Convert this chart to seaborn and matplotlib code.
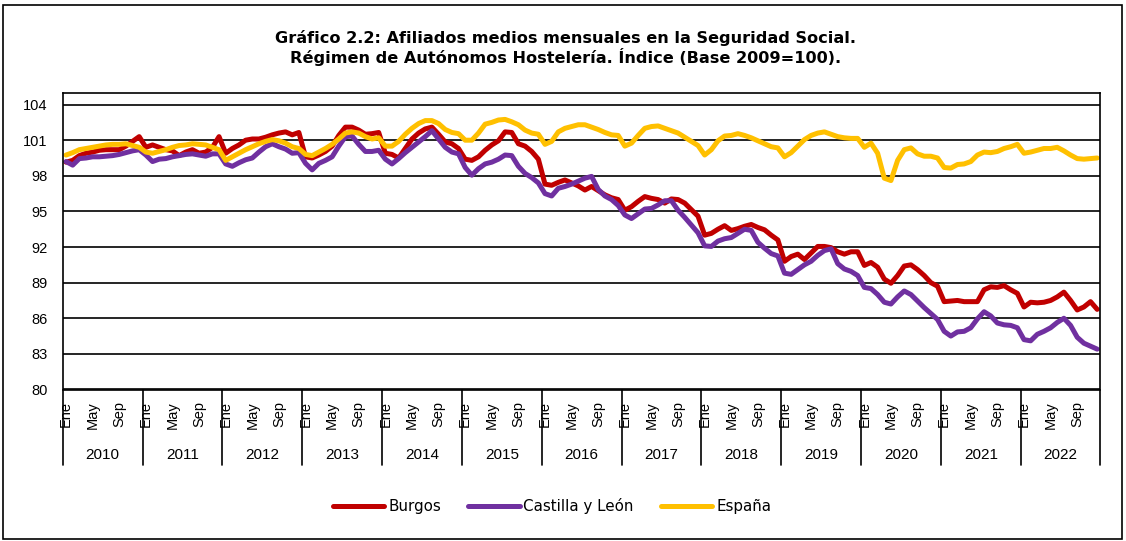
import matplotlib
matplotlib.use("Agg")
import numpy as np
import pandas as pd
import matplotlib.pyplot as plt
import matplotlib.transforms as mtransforms
from matplotlib.lines import Line2D
from matplotlib.patches import Rectangle
import seaborn as sns

# ---- data: monthly index (Base 2009 = 100), Jan 2010 .. Dec 2022 ----
years = list(range(2010, 2023))
month_names = ["Ene", "Feb", "Mar", "Abr", "May", "Jun",
               "Jul", "Ago", "Sep", "Oct", "Nov", "Dic"]
shown_months = ["Ene", "May", "Sep"]

burgos = [
    99.15, 99.3, 99.7, 99.9, 100.0, 100.15, 100.2, 100.2, 100.2, 100.5, 100.9, 101.3,
    100.4, 100.6, 100.4, 100.2, 100.1, 99.7, 100.0, 100.2, 99.9, 100.0, 100.4, 101.3,
    99.9, 100.3, 100.6, 101.0, 101.1, 101.1, 101.25, 101.45, 101.6, 101.7, 101.45, 101.65,
    99.6, 99.5, 99.75, 100.05, 100.5, 101.4, 102.1, 102.1, 101.85, 101.5, 101.55, 101.65,
    99.9, 99.8, 99.5, 100.3, 101.1, 101.6, 101.95, 102.1, 101.5, 100.85, 100.7, 100.3,
    99.4, 99.3, 99.6, 100.15, 100.6, 100.95, 101.7, 101.65, 100.7, 100.5, 100.05, 99.4,
    97.3, 97.2, 97.45, 97.65, 97.4, 97.15, 96.8, 97.1, 96.75, 96.4, 96.15, 96.0,
    95.1, 95.4, 95.85, 96.25, 96.1, 96.0, 95.7, 96.05, 96.0, 95.7, 95.15, 94.6,
    93.0, 93.15, 93.5, 93.8, 93.4, 93.55, 93.75, 93.9, 93.65, 93.45, 93.0, 92.6,
    90.8, 91.2, 91.4, 90.95, 91.5, 92.05, 92.05, 91.95, 91.6, 91.4, 91.6, 91.6,
    90.45, 90.7, 90.3, 89.3, 88.95, 89.6, 90.4, 90.5, 90.1, 89.6, 89.0, 88.7,
    87.4, 87.45, 87.5, 87.4, 87.4, 87.4, 88.4, 88.65, 88.6, 88.75, 88.4, 88.1,
    86.95, 87.35, 87.3, 87.35, 87.5, 87.8, 88.2, 87.5, 86.7, 86.95, 87.4, 86.75,
]

castilla_leon = [
    99.2, 98.9, 99.45, 99.5, 99.6, 99.6, 99.65, 99.7, 99.8, 99.95, 100.1, 100.2,
    99.75, 99.2, 99.4, 99.45, 99.6, 99.7, 99.8, 99.85, 99.75, 99.65, 99.85, 99.85,
    99.0, 98.8, 99.1, 99.35, 99.5, 100.0, 100.45, 100.7, 100.45, 100.25, 99.9, 99.95,
    99.05, 98.5, 99.05, 99.3, 99.6, 100.5, 101.3, 101.35, 100.65, 100.05, 100.05, 100.15,
    99.4, 99.0, 99.45, 99.95, 100.4, 100.85, 101.3, 101.8, 101.1, 100.4, 100.0, 99.85,
    98.7, 98.05, 98.6, 99.0, 99.15, 99.4, 99.75, 99.7, 98.8, 98.2, 97.85, 97.4,
    96.5, 96.3, 96.95, 97.1, 97.3, 97.55, 97.8, 97.95, 96.85, 96.3, 96.0, 95.5,
    94.7, 94.4, 94.8, 95.2, 95.25, 95.55, 95.9, 95.9, 95.1, 94.5, 93.85, 93.2,
    92.1, 92.05, 92.5, 92.7, 92.8, 93.15, 93.5, 93.4, 92.4, 91.9, 91.45, 91.25,
    89.8, 89.7, 90.1, 90.5, 90.8, 91.3, 91.7, 91.85, 90.6, 90.15, 89.95, 89.6,
    88.6, 88.5, 88.0, 87.35, 87.2, 87.8, 88.3, 88.0, 87.45, 86.9, 86.4, 85.9,
    84.9, 84.5, 84.85, 84.9, 85.2, 85.95, 86.55, 86.2, 85.6, 85.45, 85.4, 85.2,
    84.2, 84.1, 84.65, 84.9, 85.2, 85.65, 86.0, 85.4, 84.4, 83.9, 83.65, 83.4,
]

espana = [
    99.75, 99.95, 100.2, 100.3, 100.4, 100.5, 100.6, 100.65, 100.65, 100.7, 100.55, 100.4,
    100.0, 99.9, 100.05, 100.2, 100.4, 100.55, 100.6, 100.7, 100.65, 100.6, 100.4, 100.2,
    99.3, 99.6, 99.9, 100.2, 100.45, 100.7, 100.9, 101.05, 100.95, 100.75, 100.45, 100.3,
    99.8, 99.7, 100.0, 100.3, 100.65, 101.1, 101.6, 101.7, 101.6, 101.3, 101.1, 101.2,
    100.5, 100.5, 100.9, 101.5, 102.0, 102.4, 102.65, 102.65, 102.4, 101.9, 101.65, 101.55,
    101.0, 101.0, 101.6, 102.35, 102.5, 102.7, 102.75, 102.55, 102.3, 101.85, 101.6, 101.5,
    100.65, 100.9, 101.7, 102.0, 102.15, 102.3, 102.3, 102.1, 101.9, 101.65, 101.45, 101.4,
    100.5, 100.75, 101.4, 102.0, 102.15, 102.2, 102.0, 101.8, 101.6, 101.25, 100.9, 100.55,
    99.75, 100.2, 100.95, 101.35, 101.4, 101.55, 101.4, 101.2, 100.95, 100.7, 100.45, 100.35,
    99.6, 99.95, 100.5, 101.05, 101.4, 101.6, 101.7, 101.5, 101.3, 101.2, 101.15, 101.15,
    100.4, 100.75, 99.9, 97.8, 97.6, 99.3, 100.2, 100.35, 99.85, 99.65, 99.65, 99.5,
    98.7, 98.65, 98.95, 99.0, 99.2, 99.75, 100.0, 99.95, 100.05, 100.3, 100.45, 100.65,
    99.9, 100.0, 100.15, 100.3, 100.3, 100.4, 100.1, 99.75, 99.45, 99.4, 99.45, 99.5,
]

series_names = ["Burgos", "Castilla y León", "España"]
series_colors = ["#C00000", "#7030A0", "#FFC000"]
y_ticks = [80, 83, 86, 89, 92, 95, 98, 101, 104]
title_lines = ["Gráfico 2.2: Afiliados medios mensuales en la Seguridad Social.",
               "Régimen de Autónomos Hostelería. Índice (Base 2009=100)."]

# ---- long-form table for seaborn ----
n_months = len(years) * 12
month_idx = np.arange(n_months)
df = pd.concat([
    pd.DataFrame({"mes": month_idx, "indice": vals, "serie": name})
    for name, vals in zip(series_names, [burgos, castilla_leon, espana])
], ignore_index=True)

# ---- style ----
sns.set_style("white")
plt.rcParams["font.family"] = ["Liberation Sans", "DejaVu Sans"]
plt.rcParams["text.color"] = "black"
plt.rcParams["xtick.color"] = "black"
plt.rcParams["ytick.color"] = "black"
plt.rcParams["axes.labelcolor"] = "black"
label_font = ["DejaVu Sans"]

W, H = 1126, 541
fig = plt.figure(figsize=(W / 100, H / 100), dpi=100)
fig.patch.set_facecolor("white")

ax_left, ax_right = 62.7, 1100.5
ax_top, ax_bottom = 92.7, 389.5
ax = fig.add_axes([ax_left / W, (H - ax_bottom) / H,
                   (ax_right - ax_left) / W, (ax_bottom - ax_top) / H])

palette = dict(zip(series_names, series_colors))
sns.lineplot(data=df, x="mes", y="indice", hue="serie", hue_order=series_names,
             palette=palette, linewidth=3.6, legend=False, sort=False, ax=ax,
             solid_joinstyle="round", solid_capstyle="round")

ax.set_xlim(-0.5, n_months - 0.5)
ax.set_ylim(80, 105)
ax.set_xlabel("")
ax.set_ylabel("")

# y axis: horizontal black gridlines
ax.set_yticks(y_ticks)
ax.set_yticklabels([str(t) for t in y_ticks], fontsize=10.5, color="black")
ax.yaxis.grid(True, color="black", linewidth=1.2)
ax.xaxis.grid(False)
ax.set_axisbelow(True)
ax.tick_params(axis="y", length=0, pad=11, labelcolor="black")

# x axis: month labels (Ene / May / Sep) per year
tick_pos, tick_lab = [], []
for k in range(len(years)):
    for m, name in enumerate(month_names):
        if name in shown_months:
            tick_pos.append(12 * k + m)
            tick_lab.append(name)
ax.set_xticks(tick_pos)
ax.set_xticklabels(tick_lab, rotation=90, fontsize=10.5, color="black")
ax.tick_params(axis="x", length=0, pad=8.5, labelcolor="black")

for s in ax.spines.values():
    s.set_visible(True)
    s.set_color("black")
    s.set_linewidth(1.2)

# year group labels with separators below the axis
trans = mtransforms.blended_transform_factory(ax.transData, ax.transAxes)
sep_bottom = -(465 - ax_bottom) / (ax_bottom - ax_top)
year_y = -(455 - ax_bottom) / (ax_bottom - ax_top)
for k in range(len(years) + 1):
    xb = 12 * k - 0.5
    ax.plot([xb, xb], [0, sep_bottom], transform=trans, color="black",
            linewidth=1.2, clip_on=False)
for k, yr in enumerate(years):
    ax.text(12 * k + 5.5, year_y, str(yr), transform=trans, ha="center",
            va="center", fontsize=11, color="black")

# title
fig.text(566 / W, 1 - 38.5 / H, title_lines[0], ha="center", va="center",
         fontsize=11.6, fontweight="bold", family=label_font, color="black")
fig.text(566 / W, 1 - 57.5 / H, title_lines[1], ha="center", va="center",
         fontsize=11.6, fontweight="bold", family=label_font, color="black")

# legend
handles = [Line2D([0], [0], color=c, linewidth=3.6, solid_capstyle="round")
           for c in series_colors]
leg = fig.legend(handles, series_names, loc="center",
                 bbox_to_anchor=(552 / W, 1 - 506 / H), ncol=3, frameon=False,
                 handlelength=3.4, handletextpad=0.25, columnspacing=1.8,
                 prop={"family": label_font, "size": 10.9})
for t in leg.get_texts():
    t.set_color("black")

# chart frame
fig.patches.append(Rectangle((3 / W, 2 / H), (1122 - 3) / W, (536 - 2) / H,
                             transform=fig.transFigure, fill=False,
                             edgecolor="black", linewidth=1.2))

fig.savefig("out.png", dpi=100, facecolor="white")
